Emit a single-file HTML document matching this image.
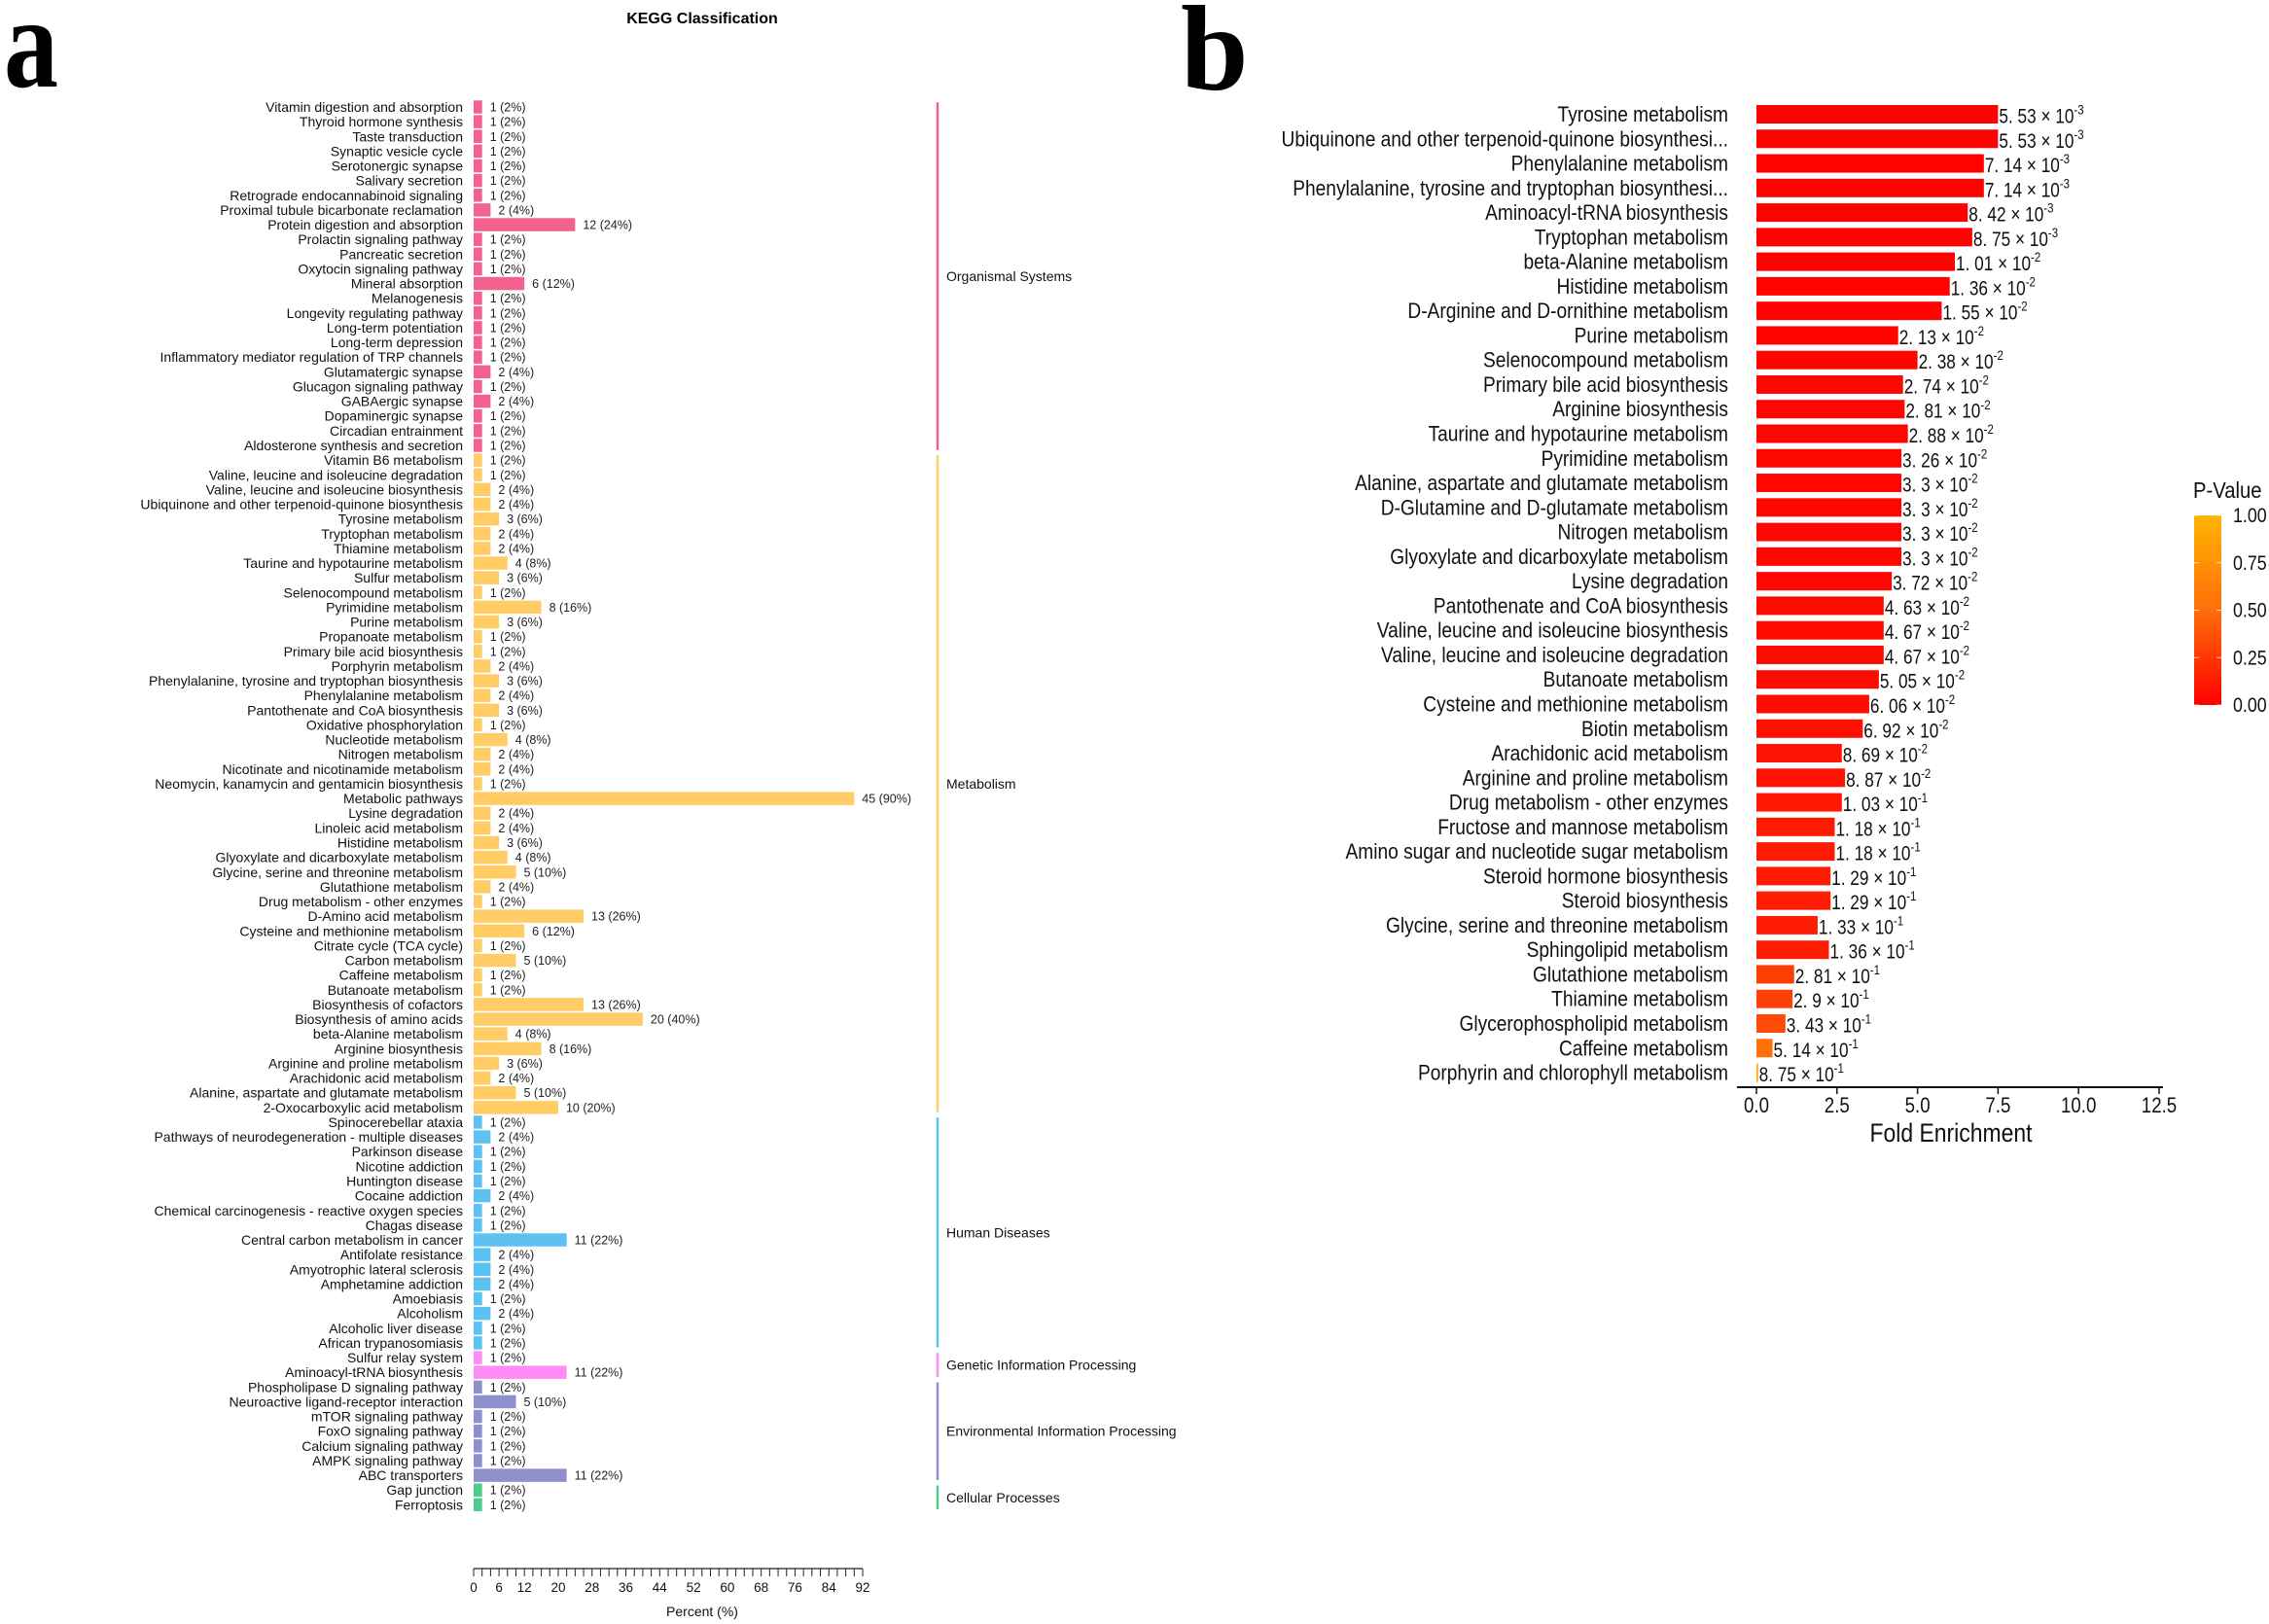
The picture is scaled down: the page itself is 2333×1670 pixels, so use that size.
<!DOCTYPE html>
<html><head><meta charset="utf-8"><style>
html,body{margin:0;padding:0;background:#fff;}
svg{display:block;font-family:"Liberation Sans",Arial,sans-serif;}
</style></head><body>
<svg id="fig" width="2333" height="1670" viewBox="0 0 2333 1670" xmlns="http://www.w3.org/2000/svg">
<rect width="2333" height="1670" fill="#fff"/>
<text x="4" y="89" font-family="Liberation Serif,serif" font-weight="bold" font-size="112" transform="translate(4,89) scale(1,1.2) translate(-4,-89)">a</text>
<text x="1214" y="92" font-family="Liberation Serif,serif" font-weight="bold" font-size="125">b</text>
<text x="722" y="24" text-anchor="middle" font-weight="bold" font-size="16">KEGG Classification</text>
<g id="pa"></g>
<g id="pb"></g>
</svg>
<script>
// ---------- Panel a data ----------
const aCategories = ["Vitamin digestion and absorption","Thyroid hormone synthesis","Taste transduction","Synaptic vesicle cycle","Serotonergic synapse","Salivary secretion","Retrograde endocannabinoid signaling","Proximal tubule bicarbonate reclamation","Protein digestion and absorption","Prolactin signaling pathway","Pancreatic secretion","Oxytocin signaling pathway","Mineral absorption","Melanogenesis","Longevity regulating pathway","Long-term potentiation","Long-term depression","Inflammatory mediator regulation of TRP channels","Glutamatergic synapse","Glucagon signaling pathway","GABAergic synapse","Dopaminergic synapse","Circadian entrainment","Aldosterone synthesis and secretion",
"Vitamin B6 metabolism","Valine, leucine and isoleucine degradation","Valine, leucine and isoleucine biosynthesis","Ubiquinone and other terpenoid-quinone biosynthesis","Tyrosine metabolism","Tryptophan metabolism","Thiamine metabolism","Taurine and hypotaurine metabolism","Sulfur metabolism","Selenocompound metabolism","Pyrimidine metabolism","Purine metabolism","Propanoate metabolism","Primary bile acid biosynthesis","Porphyrin metabolism","Phenylalanine, tyrosine and tryptophan biosynthesis","Phenylalanine metabolism","Pantothenate and CoA biosynthesis","Oxidative phosphorylation","Nucleotide metabolism","Nitrogen metabolism","Nicotinate and nicotinamide metabolism","Neomycin, kanamycin and gentamicin biosynthesis","Metabolic pathways","Lysine degradation","Linoleic acid metabolism","Histidine metabolism","Glyoxylate and dicarboxylate metabolism","Glycine, serine and threonine metabolism","Glutathione metabolism","Drug metabolism - other enzymes","D-Amino acid metabolism","Cysteine and methionine metabolism","Citrate cycle (TCA cycle)","Carbon metabolism","Caffeine metabolism","Butanoate metabolism","Biosynthesis of cofactors","Biosynthesis of amino acids","beta-Alanine metabolism","Arginine biosynthesis","Arginine and proline metabolism","Arachidonic acid metabolism","Alanine, aspartate and glutamate metabolism","2-Oxocarboxylic acid metabolism",
"Spinocerebellar ataxia","Pathways of neurodegeneration - multiple diseases","Parkinson disease","Nicotine addiction","Huntington disease","Cocaine addiction","Chemical carcinogenesis - reactive oxygen species","Chagas disease","Central carbon metabolism in cancer","Antifolate resistance","Amyotrophic lateral sclerosis","Amphetamine addiction","Amoebiasis","Alcoholism","Alcoholic liver disease","African trypanosomiasis",
"Sulfur relay system","Aminoacyl-tRNA biosynthesis",
"Phospholipase D signaling pathway","Neuroactive ligand-receptor interaction","mTOR signaling pathway","FoxO signaling pathway","Calcium signaling pathway","AMPK signaling pathway","ABC transporters",
"Gap junction","Ferroptosis"];
const aCounts = [1,1,1,1,1,1,1,2,12,1,1,1,6,1,1,1,1,1,2,1,2,1,1,1,
1,1,2,2,3,2,2,4,3,1,8,3,1,1,2,3,2,3,1,4,2,2,1,45,2,2,3,4,5,2,1,13,6,1,5,1,1,13,20,4,8,3,2,5,10,
1,2,1,1,1,2,1,1,11,2,2,2,1,2,1,1,
1,11,
1,5,1,1,1,1,11,
1,1];
const aPercents = aCounts.map(c => c * 2);
const aGroupNames = ["Organismal Systems","Metabolism","Human Diseases","Genetic Information Processing","Environmental Information Processing","Cellular Processes"];
const aGroupSizes = [24,45,16,2,7,2];
const aGroupColors = ["#f2628f","#ffcc66","#5cc2f2","#ff8cf5","#8f8fcc","#4fcb8e"];
const aTickLabels = [0,6,12,20,28,36,44,52,60,68,76,84,92];
const aTickStep = 2;
const aMax = 92;

// ---------- Panel b data ----------
const bTerms = ["Tyrosine metabolism","Ubiquinone and other terpenoid-quinone biosynthesi...","Phenylalanine metabolism","Phenylalanine, tyrosine and tryptophan biosynthesi...","Aminoacyl-tRNA biosynthesis","Tryptophan metabolism","beta-Alanine metabolism","Histidine metabolism","D-Arginine and D-ornithine metabolism","Purine metabolism","Selenocompound metabolism","Primary bile acid biosynthesis","Arginine biosynthesis","Taurine and hypotaurine metabolism","Pyrimidine metabolism","Alanine, aspartate and glutamate metabolism","D-Glutamine and D-glutamate metabolism","Nitrogen metabolism","Glyoxylate and dicarboxylate metabolism","Lysine degradation","Pantothenate and CoA biosynthesis","Valine, leucine and isoleucine biosynthesis","Valine, leucine and isoleucine degradation","Butanoate metabolism","Cysteine and methionine metabolism","Biotin metabolism","Arachidonic acid metabolism","Arginine and proline metabolism","Drug metabolism - other enzymes","Fructose and mannose metabolism","Amino sugar and nucleotide sugar metabolism","Steroid hormone biosynthesis","Steroid biosynthesis","Glycine, serine and threonine metabolism","Sphingolipid metabolism","Glutathione metabolism","Thiamine metabolism","Glycerophospholipid metabolism","Caffeine metabolism","Porphyrin and chlorophyll metabolism"];
const bFold = [7.5,7.5,7.06,7.06,6.56,6.7,6.16,6.0,5.75,4.4,5.0,4.55,4.6,4.7,4.5,4.5,4.5,4.5,4.5,4.2,3.95,3.95,3.95,3.8,3.5,3.3,2.65,2.75,2.65,2.43,2.43,2.3,2.3,1.9,2.25,1.17,1.12,0.9,0.5,0.05];
const bPMant = ["5. 53","5. 53","7. 14","7. 14","8. 42","8. 75","1. 01","1. 36","1. 55","2. 13","2. 38","2. 74","2. 81","2. 88","3. 26","3. 3","3. 3","3. 3","3. 3","3. 72","4. 63","4. 67","4. 67","5. 05","6. 06","6. 92","8. 69","8. 87","1. 03","1. 18","1. 18","1. 29","1. 29","1. 33","1. 36","2. 81","2. 9","3. 43","5. 14","8. 75"];
const bPExp = [-3,-3,-3,-3,-3,-3,-2,-2,-2,-2,-2,-2,-2,-2,-2,-2,-2,-2,-2,-2,-2,-2,-2,-2,-2,-2,-2,-2,-1,-1,-1,-1,-1,-1,-1,-1,-1,-1,-1,-1];
const bTickLabels = ["0.0","2.5","5.0","7.5","10.0","12.5"];
const bTickValues = [0,2.5,5,7.5,10,12.5];
const cbTickLabels = ["0.00","0.25","0.50","0.75","1.00"];
const cbTickValues = [0,0.25,0.5,0.75,1];

const NS = "http://www.w3.org/2000/svg";
function mk(tag, attrs, parent, txt){
  const e = document.createElementNS(NS, tag);
  for (const k in attrs) e.setAttribute(k, attrs[k]);
  if (txt !== undefined) e.textContent = txt;
  parent.appendChild(e); return e;
}

// ---------- Panel a drawing ----------
const pa = document.getElementById('pa');
const aX0 = 487, aPxPer = 400 / aMax;
const aY0 = 110, aPitch = 15.13, aBarH = 13.5;
const ax = v => aX0 + v * aPxPer;
const ay = i => aY0 + i * aPitch;
const rowColor = [];
aGroupSizes.forEach((n, g) => { for (let k = 0; k < n; k++) rowColor.push(aGroupColors[g]); });
aCategories.forEach((c, i) => {
  const cy = ay(i);
  const lab = mk('text', {x: 476, y: cy + 5, 'text-anchor': 'end', 'font-size': 14, fill: '#111'}, pa, c);
  
  
  const bar = mk('rect', {x: ax(0), y: cy - aBarH / 2, width: ax(aPercents[i]) - ax(0), height: aBarH, fill: rowColor[i]}, pa);
  
  
  const vl = mk('text', {x: ax(aPercents[i]) + 8, y: cy + 4.5, 'font-size': 12.5, fill: '#222'}, pa, aCounts[i] + ' (' + aPercents[i] + '%)');
  
  
});
let start = 0;
aGroupSizes.forEach((n, g) => {
  const y1 = ay(start) - aBarH / 2 + 2, y2 = ay(start + n - 1) + aBarH / 2 - 2;
  const ln = mk('line', {x1: 964, x2: 964, y1: y1, y2: y2, stroke: aGroupColors[g], 'stroke-width': 2.5}, pa);
  
  
  const gl = mk('text', {x: 973, y: (y1 + y2) / 2 + 5, 'font-size': 14, fill: '#111'}, pa, aGroupNames[g]);
  
  
  start += n;
});
const axA = mk('line', {x1: ax(0), x2: ax(aMax), y1: 1613, y2: 1613, stroke: '#222', 'stroke-width': 1.3}, pa);


for (let v = 0; v <= aMax; v += aTickStep) {
  const t = mk('line', {x1: ax(v), x2: ax(v), y1: 1613, y2: 1621, stroke: '#222', 'stroke-width': 1}, pa);
  
  
}
aTickLabels.forEach(v => {
  const t = mk('text', {x: ax(v), y: 1637, 'text-anchor': 'middle', 'font-size': 13.5, fill: '#111'}, pa, String(v));
  
  
});
const xtA = mk('text', {x: 722, y: 1662, 'text-anchor': 'middle', 'font-size': 14, fill: '#111'}, pa, 'Percent (%)');



// ---------- Panel b drawing ----------
const pb = document.getElementById('pb');
const bX0 = 1806, bPxPer = 414 / 12.5;
const bY0 = 117.5, bPitch = 25.27, bBarH = 19;
const bx = v => bX0 + v * bPxPer;
const by = i => bY0 + i * bPitch;
const pColor = p => {
  let r = 255, g, b;
  if (p <= 0.5) { const t = p / 0.5; g = 110 * t; b = 10 * t; }
  else { const t = (p - 0.5) / 0.5; g = 110 + 70 * t; b = 10 - 10 * t; }
  return 'rgb(' + r + ',' + Math.round(g) + ',' + Math.round(b) + ')';
};
const pVal = i => parseFloat(bPMant[i].replace(' ', '')) * Math.pow(10, bPExp[i]);
bTerms.forEach((term, i) => {
  const cy = by(i);
  const lab = mk('text', {'text-anchor': 'end', 'font-size': 22, fill: '#111', transform: 'translate(1777,' + (cy + 7.5) + ') scale(0.87,1)'}, pb, term);
  
  
  const bar = mk('rect', {x: bx(0), y: cy - bBarH / 2, width: Math.max(1.5, bx(bFold[i]) - bx(0)), height: bBarH, fill: pColor(pVal(i))}, pb);
  
  
  const vt = mk('text', {'font-size': 21, fill: '#111', transform: 'translate(' + (bx(bFold[i]) + 1) + ',' + (cy + 9) + ') scale(0.82,1)'}, pb);
  
  
  mk('tspan', {}, vt, bPMant[i] + ' \u00d7 10');
  mk('tspan', {dy: -9, 'font-size': 14}, vt, String(bPExp[i]));
});
const axB = mk('line', {x1: 1786, x2: 2224, y1: 1118, y2: 1118, stroke: '#111', 'stroke-width': 2}, pb);


bTickValues.forEach((v, k) => {
  const t = mk('line', {x1: bx(v), x2: bx(v), y1: 1118, y2: 1125, stroke: '#111', 'stroke-width': 1.5}, pb);
  
  
  const l = mk('text', {'text-anchor': 'middle', 'font-size': 22, fill: '#111', transform: 'translate(' + bx(v) + ',1144) scale(0.85,1)'}, pb, bTickLabels[k]);
  
  
});
const xtB = mk('text', {'text-anchor': 'middle', 'font-size': 27, fill: '#111', transform: 'translate(2006,1174) scale(0.85,1)'}, pb, 'Fold Enrichment');



// colorbar
const defs = mk('defs', {}, pb);
const grad = mk('linearGradient', {id: 'cbg', x1: 0, y1: 1, x2: 0, y2: 0}, defs);
[0, 0.25, 0.5, 0.75, 1].forEach(s => mk('stop', {offset: s, 'stop-color': pColor(s)}, grad));
const cbTop = 530, cbBot = 725, cbX = 2256, cbW = 28;
const cb = mk('rect', {x: cbX, y: cbTop, width: cbW, height: cbBot - cbTop, fill: 'url(#cbg)'}, pb);


const cbY = v => cbBot - v * (cbBot - cbTop);
cbTickValues.forEach((v, k) => {
  const t1 = mk('line', {x1: cbX, x2: cbX + 5, y1: cbY(v), y2: cbY(v), stroke: '#fff', 'stroke-width': 1, opacity: 0.7}, pb);
  
  
  const t2 = mk('line', {x1: cbX + cbW - 5, x2: cbX + cbW, y1: cbY(v), y2: cbY(v), stroke: '#fff', 'stroke-width': 1, opacity: 0.7}, pb);
  
  
  const l = mk('text', {'font-size': 21, fill: '#111', transform: 'translate(' + (cbX + cbW + 12) + ',' + (cbY(v) + 7) + ') scale(0.85,1)'}, pb, cbTickLabels[k]);
  
  
});
const cbt = mk('text', {'font-size': 23, fill: '#111', transform: 'translate(2255,512) scale(0.88,1)'}, pb, 'P-Value');


</script>
</body></html>
